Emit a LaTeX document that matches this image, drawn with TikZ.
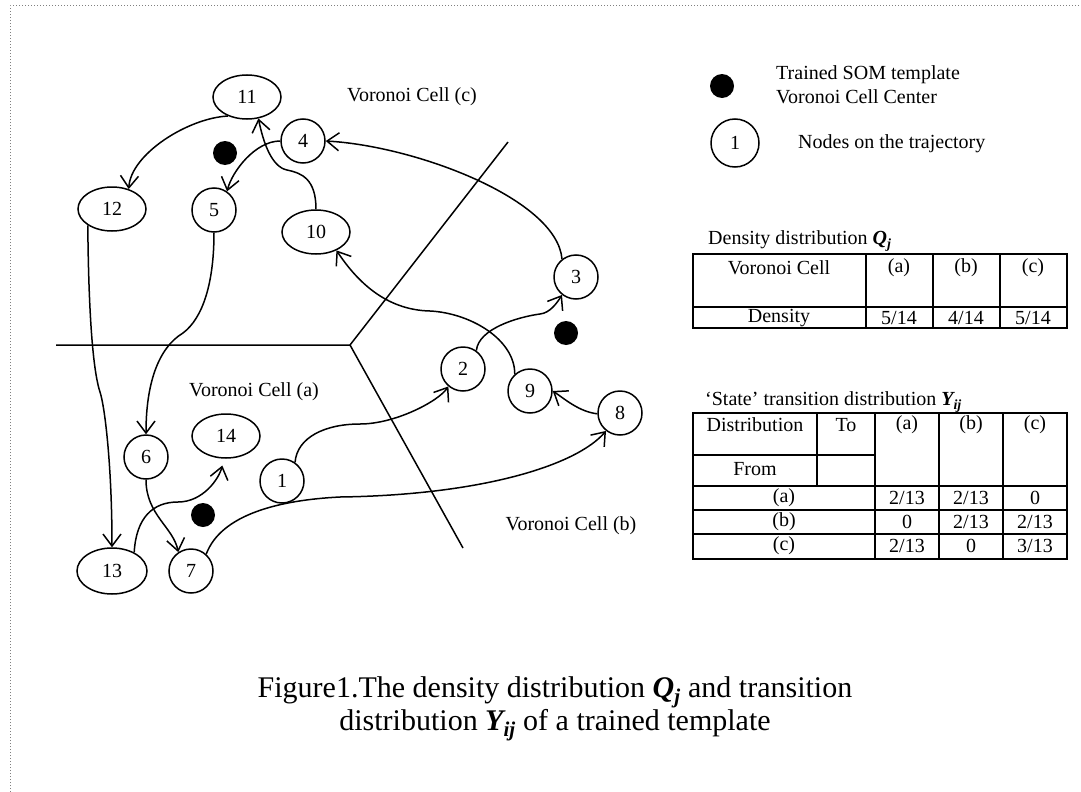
\documentclass[tikz,border=0pt]{standalone}
\usepackage{fontspec}
\setmainfont{Liberation Serif}
\usetikzlibrary{arrows.meta,shapes.geometric}
\begin{document}
\begin{tikzpicture}[x=1pt,y=-1pt,
  tnode/.style={draw,ellipse,line width=1.5pt,inner sep=0pt,minimum width=44pt,minimum height=44pt,font=\fontsize{20}{24}\selectfont},
  wnode/.style={tnode,minimum width=68pt},
  conn/.style={line width=1.5pt,-{Straight Barb[length=12pt,width=18pt]}},
  cdot/.style={fill=black,circle,inner sep=0pt,minimum size=24pt},
  vline/.style={line width=1.5pt},
  lbl/.style={font=\fontsize{20}{24}\selectfont,inner sep=0pt},
  tline/.style={line width=2pt},
  capt/.style={font=\fontsize{30}{30}\selectfont,inner sep=0pt,align=center},
]
\useasboundingbox (0,0) rectangle (1081,792);
\draw[gray,dotted,line width=1pt] (10,792) -- (10,6) -- (1081,6);

% Voronoi boundaries
\coordinate (vc) at (350,345);
\coordinate (vl) at (56,345);
\coordinate (vu) at (508,142);
\coordinate (vd) at (463,548);
\draw[vline] (vl) -- (vc) -- (vu);
\draw[vline] (vc) -- (vd);

% cell centres
\node[cdot] (ccen) at (225,153) {};
\node[cdot] (bcen) at (566,333) {};
\node[cdot] (acen) at (203,515) {};

% trajectory nodes
\node[wnode] (n11) at (247,97) {11};
\node[tnode] (n4) at (303,141) {4};
\node[wnode] (n12) at (112,209) {12};
\node[tnode] (n5) at (214,210) {5};
\node[wnode] (n10) at (316,232) {10};
\node[tnode] (n3) at (576,277) {3};
\node[tnode] (n2) at (463,369) {2};
\node[tnode] (n9) at (530,391) {9};
\node[tnode] (n8) at (620,413) {8};
\node[wnode] (n14) at (226,436) {14};
\node[tnode] (n6) at (146,457) {6};
\node[tnode] (n1) at (282,481) {1};
\node[wnode,minimum width=70pt,minimum height=46pt] (n13) at (112,571) {13};
\node[tnode] (n7) at (191,571) {7};

% cell labels
\node[lbl] (labc) at (412,97) {Voronoi Cell (c)};
\node[lbl] (laba) at (254,392) {Voronoi Cell (a)};
\node[lbl] (labb) at (571,526) {Voronoi Cell (b)};

% trajectory
\draw[conn] (n1.55) .. controls +(2,-25) and +(-35,0) .. (360,424) .. controls +(35,0) and +(-10,15) .. (n2.230);
\draw[conn] (n2.54) .. controls +(2,-22) and +(-22,3) .. (540,314) .. controls +(10,-1) and +(-5,8) .. (n3.232);
\draw[conn] (n3.128) .. controls +(-5,-60) and +(90,5) .. (n4.0);
\draw[conn] (n4.180) .. controls +(-25,0) and +(5,-20) .. (n5.55);
\draw[conn] (n5.270) .. controls +(0,50) and +(20,-15) .. (183,333) .. controls +(-25,15) and +(0,-50) .. (n6.90);
\draw[conn] (n6.270) .. controls +(0,35) and +(-5,-25) .. (n7.124);
\draw[conn] (n7.48) .. controls +(15,-40) and +(-60,3) .. (340,497) .. controls +(140,-2) and +(-30,35) .. (n8.232);
\draw[conn] (n8.182) .. controls +(-18,-2) and +(12,8) .. (n9.0);
\draw[conn] (n9.132) .. controls +(0,-35) and +(40,2) .. (430,311) .. controls +(-45,-1) and +(20,30) .. (n10.318);
\draw[conn] (n10.90) .. controls +(0,-30) and +(15,3) .. (287,170) .. controls +(-15,-3) and +(5,25) .. (n11.298);
\draw[conn] (n11.225) .. controls +(-40,2) and +(2,-35) .. (n12.50);
\draw[conn] (n12.214) .. controls +(1,110) and +(-5,-15) .. (100,392) .. controls +(5,15) and +(0,-80) .. (n13.90);
\draw[conn,shorten >=7pt] (n13.40) .. controls +(2,-35) and +(-25,0) .. (178,502) .. controls +(25,0) and +(-5,20) .. (n14.265);

% legend
\node[cdot] (legdot) at (722,86) {};
\node[lbl,anchor=west,align=left] (legtxt) at (776,85) {Trained SOM template\\Voronoi Cell Center};
\node[tnode,minimum width=48pt,minimum height=48pt] (legnode) at (735,143) {1};
\node[lbl,anchor=west] (legtxt2) at (798,144) {Nodes on the trajectory};

% table 1
\node[lbl,anchor=west] (t1title) at (708,241) {Density distribution {\bfseries\itshape Q\textsubscript{j}}};
\draw[tline] (693,254) rectangle (1067,328);
\draw[tline] (693,307) -- (1067,307);
\draw[tline] (866,254) -- (866,328);
\draw[tline] (933,254) -- (933,328);
\draw[tline] (1000,254) -- (1000,328);
\node[lbl] (t1a) at (779,268) {Voronoi Cell};
\node[lbl] (t1b) at (899,268) {(a)};
\node[lbl] (t1c) at (966,268) {(b)};
\node[lbl] (t1d) at (1033,268) {(c)};
\node[lbl] (t1e) at (779,318) {Density};
\node[lbl] (t1f) at (899,318) {5/14};
\node[lbl] (t1g) at (966,318) {4/14};
\node[lbl] (t1h) at (1033,318) {5/14};

% table 2
\node[lbl,anchor=west] (t2title) at (705,402) {‘State’ transition distribution {\bfseries\itshape Y\textsubscript{ij}}};
\draw[tline] (693,413) rectangle (1067,559);
\draw[tline] (693,455) -- (875,455);
\draw[tline] (693,486) -- (1067,486);
\draw[tline] (693,510) -- (1067,510);
\draw[tline] (693,534) -- (1067,534);
\draw[tline] (817,413) -- (817,486);
\draw[tline] (875,413) -- (875,559);
\draw[tline] (939,413) -- (939,559);
\draw[tline] (1003,413) -- (1003,559);
\node[lbl] (t2a) at (755,425) {Distribution};
\node[lbl] (t2b) at (846,425) {To};
\node[lbl] (t2c) at (755,469) {From};
\node[lbl] (t2d) at (907,425) {(a)};
\node[lbl] (t2e) at (971,425) {(b)};
\node[lbl] (t2f) at (1035,425) {(c)};
\node[lbl] (r1) at (784,498) {(a)};
\node[lbl] (r2) at (784,522) {(b)};
\node[lbl] (r3) at (784,546) {(c)};
\node[lbl] (v11) at (907,498) {2/13};
\node[lbl] (v12) at (971,498) {2/13};
\node[lbl] (v13) at (1035,498) {0};
\node[lbl] (v21) at (907,522) {0};
\node[lbl] (v22) at (971,522) {2/13};
\node[lbl] (v23) at (1035,522) {2/13};
\node[lbl] (v31) at (907,546) {2/13};
\node[lbl] (v32) at (971,546) {0};
\node[lbl] (v33) at (1035,546) {3/13};

% caption
\node[capt] (cap) at (555,709) {Figure1.The density distribution {\bfseries\itshape Q\textsubscript{j}} and transition\\distribution {\bfseries\itshape Y\textsubscript{ij}} of a trained template};
\end{tikzpicture}
\end{document}
